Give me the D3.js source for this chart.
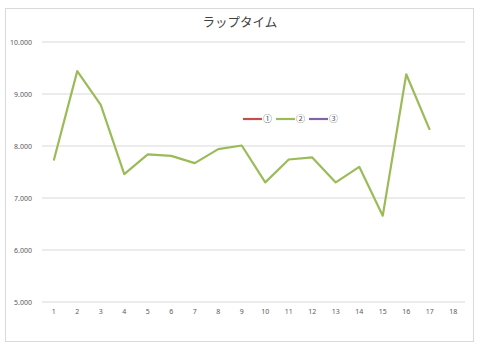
<!DOCTYPE html>
<html>
<head>
<meta charset="utf-8">
<script src="https://cdn.jsdelivr.net/npm/d3@7"></script>
<style>
body { margin: 0; background: #fff; }
text { font-family: "Noto Sans CJK JP", "DejaVu Sans", sans-serif; }
.tick text { font-family: "Noto Sans", "DejaVu Sans", sans-serif; }
</style>
</head>
<body>
<div class="chart"></div>
<script>
// laps and times
var laps = d3.range(1, 19).map(String);
var seriesNames = ["①", "②", "③"];
var seriesColors = ["#c0504d", "#9bbb59", "#8064a2"];
var series1 = [];
var series2 = [7.72, 9.44, 8.79, 7.46, 7.84, 7.81, 7.67, 7.94, 8.01, 7.30, 7.74, 7.78, 7.30, 7.60, 6.66, 9.38, 8.31];
var series3 = [];
var yTicks = [5, 6, 7, 8, 9, 10];

var W = 480, H = 349;
var margin = {top: 42, right: 15, bottom: 47, left: 42},
    width = W - margin.left - margin.right,
    height = H - margin.top - margin.bottom;

var svg = d3.select(".chart").append("svg")
    .attr("width", W)
    .attr("height", H);

// outer border
svg.append("rect")
    .attr("x", 5.5).attr("y", 8.5)
    .attr("width", 468).attr("height", 333)
    .attr("fill", "#fff")
    .attr("stroke", "#d9d9d9");

svg.append("text")
    .attr("x", 240).attr("y", 27)
    .attr("text-anchor", "middle")
    .attr("font-size", 12.5)
    .attr("fill", "#404040")
    .text("ラップタイム");

var g = svg.append("g")
    .attr("transform", "translate(" + margin.left + "," + margin.top + ")");

var x = d3.scaleBand().domain(laps).range([0, width]);
var y = d3.scaleLinear().domain([5, 10]).range([height, 0]);

// gridlines
g.append("g").selectAll("line")
    .data(yTicks)
    .enter()
    .append("line")
    .attr("x1", 0).attr("x2", width)
    .attr("y1", d => y(d)).attr("y2", d => y(d))
    .attr("stroke", "#d9d9d9")
    .attr("stroke-width", 1);

// y axis labels
var yAxis = g.append("g")
    .call(d3.axisLeft(y).tickValues(yTicks).tickFormat(d3.format(".3f")).tickSize(0).tickPadding(10));
yAxis.select(".domain").remove();
yAxis.selectAll("text").attr("fill", "#595959").attr("font-size", 7);

// x axis labels
var xAxis = g.append("g")
    .attr("transform", "translate(0," + height + ")")
    .call(d3.axisBottom(x).tickSize(0).tickPadding(7));
xAxis.select(".domain").remove();
xAxis.selectAll("text").attr("fill", "#595959").attr("font-size", 7);

var line = d3.line()
    .x((d, i) => x(laps[i]) + x.bandwidth() / 2)
    .y(d => y(d));

[series1, series2, series3].forEach(function (s, k) {
    if (!s.length) return;
    g.append("path")
        .datum(s)
        .attr("fill", "none")
        .attr("stroke", seriesColors[k])
        .attr("stroke-width", 2.2)
        .attr("stroke-linejoin", "round")
        .attr("d", line);
});

// legend
var legend = svg.append("g").attr("transform", "translate(243,119)");
seriesNames.forEach(function (name, i) {
    var lg = legend.append("g").attr("transform", "translate(" + (i * 33) + ",0)");
    lg.append("line")
        .attr("x1", 0).attr("x2", 19)
        .attr("stroke", seriesColors[i])
        .attr("stroke-width", 2.2);
    lg.append("text")
        .attr("x", 20).attr("y", 3)
        .attr("font-size", 9)
        .attr("fill", "#595959")
        .text(name);
});
</script>
</body>
</html>
